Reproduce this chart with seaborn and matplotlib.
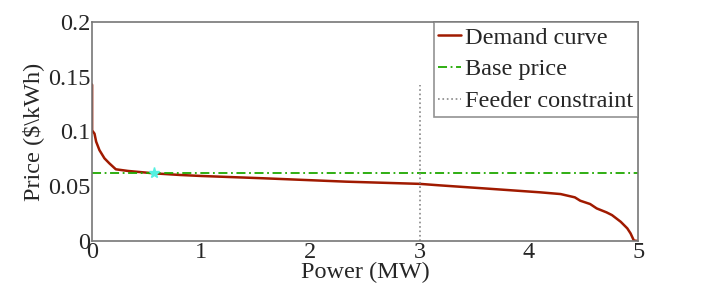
import matplotlib
matplotlib.use("Agg")
import matplotlib.pyplot as plt
import seaborn as sns
import pandas as pd

power = [0.0, 0.003, 0.003, 0.025, 0.04, 0.07, 0.116, 0.16, 0.22, 0.33, 0.57, 0.81, 1.0, 1.57,
         2.33, 3.0, 3.19, 3.6, 4.1, 4.29, 4.42, 4.47, 4.56, 4.62, 4.71, 4.76, 4.84, 4.90,
         4.93, 4.96, 5.0]
price = [0.143, 0.1425, 0.101, 0.098, 0.0907, 0.083, 0.0755, 0.071, 0.0655, 0.064, 0.0618,
         0.0603, 0.0594, 0.0573, 0.0542, 0.0522, 0.0508, 0.048, 0.0445, 0.0429, 0.0399,
         0.0368, 0.0338, 0.0298, 0.0262, 0.0237, 0.0176, 0.0116, 0.007, 0.0005, 0.0]
base_price = 0.062
feeder_limit = 3.0
feeder_top = 0.142
star_x = 0.57
x_ticks = [0, 1, 2, 3, 4, 5]
y_ticks = [0, 0.05, 0.1, 0.15, 0.2]
y_tick_labels = ["0", "0.05", "0.1", "0.15", "0.2"]

sns.set_style("white")
plt.rcParams["font.family"] = ["Liberation Serif", "DejaVu Serif"]
FS = 17.5

fig = plt.figure(figsize=(7.06, 3.04), dpi=100)
ax = fig.add_axes([0.130, 0.207, 0.774, 0.721])

df = pd.DataFrame({"Power": power, "Price": price})
sns.lineplot(data=df, x="Power", y="Price", ax=ax, color="#a01a00", lw=1.8,
             label="Demand curve", estimator=None, sort=False)
ax.axhline(base_price, color="#1fa800", ls=(0, (5, 2, 1, 2)), lw=1.3, label="Base price")
ax.plot([feeder_limit, feeder_limit], [0, feeder_top], color="#888888", ls=":", lw=1.2,
        label="Feeder constraint")
ax.plot([star_x], [base_price], marker="*", color="#55f0e0", ms=8, ls="none")

ax.set_xlim(0, 5)
ax.set_ylim(0, 0.2)
ax.set_xticks(x_ticks)
ax.set_xticklabels([str(t) for t in x_ticks])
ax.set_yticks(y_ticks)
ax.set_yticklabels(y_tick_labels)
ax.tick_params(direction="in", length=4, color="#777777", labelsize=FS, pad=1)
for s in ax.spines.values():
    s.set_color("#777777")
    s.set_linewidth(1.2)
ax.set_xlabel("Power (MW)", fontsize=FS, labelpad=-1)
ax.set_ylabel("Price ($\\kWh)", fontsize=FS, labelpad=3)

leg = ax.legend(loc="upper right", fontsize=FS, frameon=True, fancybox=False,
                borderpad=0.2, handlelength=0.95, handletextpad=0.15, labelspacing=0.4,
                borderaxespad=0.0)
leg.get_frame().set_edgecolor("#777777")
leg.get_frame().set_linewidth(1.2)

fig.savefig("out.png", dpi=100)
